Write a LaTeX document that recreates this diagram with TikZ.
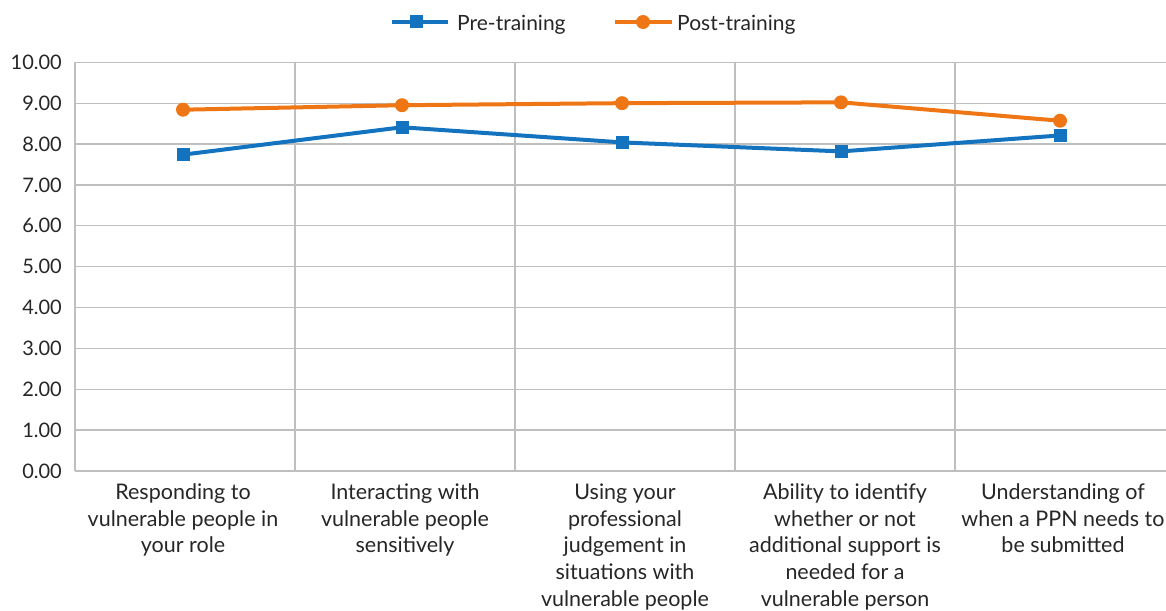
\documentclass[tikz,border=0pt]{standalone}
\usepackage{fontspec}
\setmainfont{Lato}
\definecolor{preblue}{RGB}{20,115,190}
\definecolor{postorange}{RGB}{238,118,20}
\definecolor{gridgray}{RGB}{191,191,191}
\definecolor{txt}{RGB}{38,38,38}
\begin{document}
\begin{tikzpicture}[x=1pt,y=-1pt,
  gridline/.style={gridgray, line width=1.3pt},
  ticklab/.style={anchor=east, text=txt, font=\fontsize{20}{25}\selectfont, inner sep=0},
  catlab/.style={anchor=north, align=center, text=txt, font=\fontsize{21.5}{26.7}\selectfont, inner sep=0},
  leglab/.style={anchor=west, text=txt, font=\fontsize{21}{25}\selectfont, inner sep=0},
  preline/.style={preblue, line width=4pt},
  postline/.style={postorange, line width=4pt},
  premark/.style={fill=preblue, rectangle, minimum size=13pt, inner sep=0},
  postmark/.style={fill=postorange, circle, minimum size=14pt, inner sep=0},
]
\useasboundingbox (0,0) rectangle (1166,610);
\begin{scope}
\clip (0,0) rectangle (1166,610);
% horizontal gridlines and tick labels
\foreach \i in {0,...,10}{
  \draw[gridline] (75,{471-40.87*\i}) -- (1170,{471-40.87*\i});
  \node[ticklab] (t\i) at (62,{471-40.87*\i}) {\i.00};
}
% vertical gridlines
\foreach \x in {75,295,515,735,955}{
  \draw[gridline] (\x,62.3) -- (\x,471);
}
% category labels
\node[catlab] (c1) at (183,483.5) {Responding to\\vulnerable people in\\your role};
\node[catlab] (c2) at (405,483.5) {Interacting with\\vulnerable people\\sensitively};
\node[catlab] (c3) at (625,483.5) {Using your\\professional\\judgement in\\situations with\\vulnerable people};
\node[catlab] (c4) at (845,483.5) {Ability to identify\\whether or not\\additional support is\\needed for a\\vulnerable person};
\node[catlab] (c5) at (1063,483.5) {Understanding of\\when a PPN needs to\\be submitted};
% data points
\coordinate (p1) at (183,{471-40.87*7.74});
\coordinate (p2) at (402,{471-40.87*8.41});
\coordinate (p3) at (622,{471-40.87*8.04});
\coordinate (p4) at (841,{471-40.87*7.82});
\coordinate (p5) at (1060,{471-40.87*8.21});
\coordinate (q1) at (183,{471-40.87*8.84});
\coordinate (q2) at (402,{471-40.87*8.95});
\coordinate (q3) at (622,{471-40.87*9.00});
\coordinate (q4) at (841,{471-40.87*9.02});
\coordinate (q5) at (1060,{471-40.87*8.57});
\draw[preline] (p1) -- (p2) -- (p3) -- (p4) -- (p5);
\draw[postline] (q1) -- (q2) -- (q3) -- (q4) -- (q5);
\foreach \k in {1,...,5}{
  \node[premark] (pm\k) at (p\k) {};
  \node[postmark] (qm\k) at (q\k) {};
}
% legend
\coordinate (la) at (392,22);
\coordinate (lb) at (448,22);
\draw[preline] (la) -- (lb);
\node[premark] (lm1) at (416,22) {};
\node[leglab] (l1) at (457,25) {Pre-training};
\coordinate (lc) at (615,22);
\coordinate (ld) at (672,22);
\draw[postline] (lc) -- (ld);
\node[postmark] (lm2) at (643,22) {};
\node[leglab] (l2) at (677,25) {Post-training};
\end{scope}
\end{tikzpicture}
\end{document}
